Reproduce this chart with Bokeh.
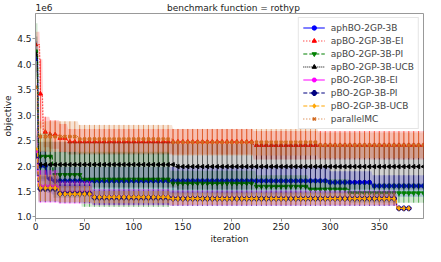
import numpy as np
from bokeh.plotting import figure
from bokeh.models import Range1d, FixedTicker, Legend, LegendItem, CustomJSTickFormatter
from bokeh.embed import file_html
from bokeh.resources import INLINE

# objective values are in units of 1e6; each series is a step function given by
# breakpoints (iteration where a new value starts), mean value and half-width of band
names = ["aphBO-2GP-3B", "apBO-2GP-3B-EI", "apBO-2GP-3B-PI", "apBO-2GP-3B-UCB",
         "pBO-2GP-3B-EI", "pBO-2GP-3B-PI", "pBO-2GP-3B-UCB", "parallelMC"]
colors = ["blue", "red", "green", "black", "magenta", "navy", "orange", "chocolate"]

blue_x = [0, 3, 12, 17, 300, 343]
blue_mean = [4.11, 2.00, 1.75, 1.71, 1.68, 1.61]
blue_std = [0.35, 0.30, 0.28, 0.27, 0.22, 0.21]
blue_end = 400

red_x = [0, 5, 8, 15, 25, 33, 222]
red_mean = [4.39, 3.42, 2.67, 2.62, 2.55, 2.48, 2.41]
red_std = [0.25, 0.68, 0.30, 0.28, 0.28, 0.25, 0.28]
red_end = 400

green_x = [0, 3, 18, 47, 137, 225, 278, 320]
green_mean = [4.26, 2.19, 1.83, 1.74, 1.66, 1.60, 1.545, 1.47]
green_std = [0.55, 0.45, 0.45, 0.54, 0.25, 0.22, 0.20, 0.19]
green_end = 400

black_x = [0, 3, 145]
black_mean = [4.20, 2.03, 1.99]
black_std = [0.35, 0.45, 0.45]
black_end = 400

magenta_x = [0, 3, 24, 58, 137, 368]
magenta_mean = [2.30, 1.60, 1.48, 1.39, 1.37, 1.17]
magenta_std = [0.45, 0.32, 0.22, 0.16, 0.15, 0.0]
magenta_end = 383

navy_x = [0, 3, 24, 58, 137, 368]
navy_mean = [2.20, 1.55, 1.46, 1.38, 1.36, 1.17]
navy_std = [0.40, 0.25, 0.18, 0.14, 0.14, 0.0]
navy_end = 383

orange_x = [0, 3, 24, 58, 137, 368]
orange_mean = [2.34, 1.57, 1.45, 1.39, 1.36, 1.17]
orange_std = [0.35, 0.26, 0.16, 0.12, 0.12, 0.0]
orange_end = 383

brown_x = [0, 3, 44, 140, 288]
brown_mean = [3.55, 2.58, 2.53, 2.47, 2.41]
brown_std = [0.45, 0.30, 0.28, 0.26, 0.25]
brown_end = 400

x_ticks = [0, 50, 100, 150, 200, 250, 300, 350]
y_ticks = [1.0, 1.5, 2.0, 2.5, 3.0, 3.5, 4.0, 4.5]

offset_text = "1e6"
title_text = "benchmark function = rothyp"

series = [
    (blue_x, blue_mean, blue_std, blue_end, "circle", 0.0, "solid"),
    (red_x, red_mean, red_std, red_end, "triangle", 0.0, "1 2"),
    (green_x, green_mean, green_std, green_end, "inverted_triangle", 0.0, "4 2"),
    (black_x, black_mean, black_std, black_end, "triangle", np.pi / 2, "1 1"),
    (magenta_x, magenta_mean, magenta_std, magenta_end, "hex", 0.0, "solid"),
    (navy_x, navy_mean, navy_std, navy_end, "plus", 0.0, "4 2"),
    (orange_x, orange_mean, orange_std, orange_end, "diamond", 0.0, "4 2"),
    (brown_x, brown_mean, brown_std, brown_end, "x", 0.0, "1 2"),
]


def expand(bx, vals, end):
    out = np.empty(end)
    for i, b in enumerate(bx):
        nb = bx[i + 1] if i + 1 < len(bx) else end
        out[b:nb] = vals[i]
    return out


FONT = "DejaVu Sans"
p = figure(width=425, height=246, output_backend="svg", toolbar_location=None,
           x_range=Range1d(0, 395), y_range=Range1d(0.97, 5.0),
           min_border_left=4, min_border_right=2, min_border_top=2, min_border_bottom=2)
# the "1e6" offset text and the centred title share one row (non-breaking spaces between)
p.title.text = offset_text + "\u00a0" * 40 + title_text
p.title.align = "left"
p.title.text_font = FONT
p.title.text_font_size = "9px"
p.title.text_font_style = "normal"
p.title.text_color = "#222222"
p.title.standoff = 1
p.title.offset = 0

p.grid.visible = False
p.outline_line_color = "#999999"
p.background_fill_color = "white"

for ax in (p.xaxis, p.yaxis):
    ax.axis_line_color = "#999999"
    ax.major_tick_line_color = "#999999"
    ax.minor_tick_line_color = None
    ax.major_tick_in = 0
    ax.major_tick_out = 3
    ax.major_label_text_font = FONT
    ax.major_label_text_font_size = "9px"
    ax.major_label_text_color = "#222222"
    ax.axis_label_text_font = FONT
    ax.axis_label_text_font_size = "9px"
    ax.axis_label_text_font_style = "normal"
    ax.axis_label_text_color = "#222222"
    ax.major_label_standoff = 1
    ax.axis_label_standoff = 1
p.xaxis.axis_label = "iteration"
p.yaxis.axis_label = "objective"
p.xaxis.ticker = FixedTicker(ticks=x_ticks)
p.yaxis.ticker = FixedTicker(ticks=y_ticks)
p.yaxis.formatter = CustomJSTickFormatter(code="return tick.toFixed(1);")

items = []
for (bx, mv, sv, end, marker, ang, dash), name, col in zip(series, names, colors):
    it = np.arange(end)
    m = expand(bx, mv, end)
    s = expand(bx, sv, end)
    p.varea(x=it, y1=m - s, y2=m + s, fill_color=col, fill_alpha=0.18)
    idx = it[::5]
    p.segment(x0=idx, y0=(m - s)[::5], x1=idx, y1=(m + s)[::5],
              line_color=col, line_alpha=0.6, line_width=1)
    lr = p.line(it, m, line_color=col, line_width=1.2, line_dash=dash)
    lw = 1.6 if marker in ("x", "plus") else 1
    mr = p.scatter(idx, m[::5], marker=marker, angle=ang, size=4.2,
                   fill_color=col, line_color=col, line_width=lw)
    items.append(LegendItem(label=name, renderers=[lr, mr]))

legend = Legend(items=items, location="top_right")
legend.label_text_font = FONT
legend.label_text_font_size = "9px"
legend.glyph_height = 11
legend.glyph_width = 22
legend.label_height = 11
legend.spacing = 2
legend.padding = 4
legend.margin = 4
legend.label_standoff = 6
legend.border_line_color = "#cccccc"
legend.background_fill_alpha = 0.8
p.add_layout(legend)

open("out.html", "w").write(file_html(p, INLINE))
